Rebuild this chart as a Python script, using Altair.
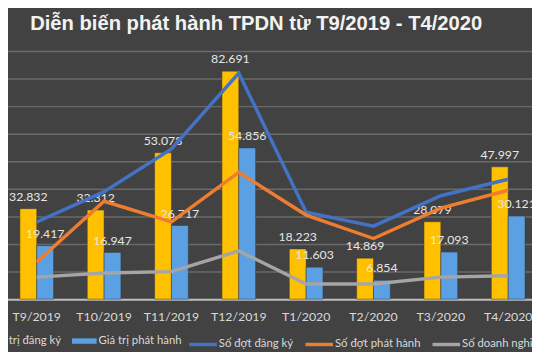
import altair as alt
import pandas as pd

months = ["T9/2019", "T10/2019", "T11/2019", "T12/2019", "T1/2020", "T2/2020", "T3/2020", "T4/2020"]
gia_tri_dang_ky = [32.832, 32.312, 53.078, 82.691, 18.223, 14.869, 28.079, 47.997]
gia_tri_phat_hanh = [19.417, 16.947, 26.717, 54.856, 11.603, 6.854, 17.093, 30.121]
so_dot_dang_ky = [56, 78, 109, 164, 63, 53, 75, 87]
so_dot_phat_hanh = [27, 71, 56, 92, 61, 44, 66, 79]
so_doanh_nghiep = [16, 19, 20, 35, 11, 11, 16, 17]
grid_values = [10, 20, 30, 40, 50, 60, 70, 80, 90]

bar_names = ["Giá trị đăng ký", "Giá trị phát hành"]
line_names = ["Số đợt đăng ký", "Số đợt phát hành", "Số doanh nghiệp phát hành"]
bar_colors = ["#FFC000", "#5BA0E3"]
line_colors = ["#4472C4", "#ED7D31", "#A5A5A5"]

FONT = "Lato, Liberation Sans, sans-serif"

bars = pd.DataFrame(
    [{"month": m, "series": bar_names[0], "value": v} for m, v in zip(months, gia_tri_dang_ky)]
    + [{"month": m, "series": bar_names[1], "value": v} for m, v in zip(months, gia_tri_phat_hanh)]
)
lines = pd.DataFrame(
    [{"month": m, "series": line_names[0], "count": v} for m, v in zip(months, so_dot_dang_ky)]
    + [{"month": m, "series": line_names[1], "count": v} for m, v in zip(months, so_dot_phat_hanh)]
    + [{"month": m, "series": line_names[2], "count": v} for m, v in zip(months, so_doanh_nghiep)]
)

x = alt.X(
    "month:N",
    sort=months,
    scale=alt.Scale(range=[-5, 542], paddingInner=0, paddingOuter=0),
    axis=alt.Axis(
        title=None, labelAngle=0, ticks=False, domain=True, domainColor="#BFBFBF",
        domainWidth=2, labelColor="#D9D9D9", labelFontSize=12.5, labelFont=FONT,
        labelPadding=12, grid=False,
    ),
)
xoff = alt.XOffset("series:N", sort=bar_names, scale=alt.Scale(paddingOuter=1, paddingInner=0))
yscale = alt.Scale(domain=[0, 90], nice=False)

grid_layer = alt.Chart(pd.DataFrame({"g": grid_values})).mark_rule(
    color="#6A6A6A", strokeWidth=1.5, yOffset=0.5
).encode(
    y=alt.Y("g:Q", scale=yscale, axis=None),
    x=alt.value(0),
    x2=alt.value({"expr": "width"}),
)

bar_layer = alt.Chart(bars).mark_bar(stroke="#3a3a3a", strokeWidth=0.5).encode(
    x=x,
    xOffset=xoff,
    y=alt.Y("value:Q", scale=yscale, axis=None),
    color=alt.Color(
        "series:N",
        sort=bar_names,
        scale=alt.Scale(domain=bar_names, range=bar_colors),
        legend=alt.Legend(
            title=None, orient="none", direction="horizontal", legendX=-46, legendY=282,
            symbolType="M-1,-0.22L1,-0.22L1,0.22L-1,0.22Z", symbolSize=625,
            symbolStrokeWidth=0, labelColor="#D9D9D9", labelFontSize=11.5, labelFont=FONT,
            labelOffset=2, columnPadding=10, padding=0,
        ),
    ),
)

label_layer = alt.Chart(bars).mark_text(
    dy=-12, color="#E6E6E6", fontSize=12.5, font=FONT
).encode(
    x=x,
    xOffset=xoff,
    y=alt.Y("value:Q", scale=yscale, axis=None),
    text=alt.Text("value:Q", format=".3f"),
)

line_layer = alt.Chart(lines).mark_line(strokeWidth=3.5).encode(
    x=x,
    y=alt.Y("count:Q", scale=alt.Scale(domain=[0, 180], nice=False), axis=None),
    color=alt.Color(
        "series:N",
        sort=line_names,
        scale=alt.Scale(domain=line_names, range=line_colors),
        legend=alt.Legend(
            title=None, orient="none", direction="horizontal", legendX=182, legendY=282,
            symbolType="stroke", symbolSize=784, symbolStrokeWidth=3.5,
            labelColor="#D9D9D9", labelFontSize=11.5, labelFont=FONT,
            labelOffset=0, columnPadding=5, padding=0,
        ),
    ),
)

bars_part = alt.layer(grid_layer, bar_layer, label_layer)
chart = (
    alt.layer(bars_part, line_layer)
    .resolve_scale(y="independent", color="independent")
    .properties(
        width=532,
        height=252,
        autosize=alt.AutoSizeParams(type="none"),
        padding={"left": 0, "top": 41, "right": 0, "bottom": 51},
        background="#424242",
        title=alt.Title(
            "Diễn biến phát hành TPDN từ T9/2019 - T4/2020",
            fontSize=20.5, font="Liberation Sans", fontWeight="bold", color="#F2F2F2",
            anchor="middle", offset=17, dx=-14,
        ),
    )
    .configure_view(stroke=None)
)

chart.save("out.html", embed_options={"renderer": "svg", "actions": False})
